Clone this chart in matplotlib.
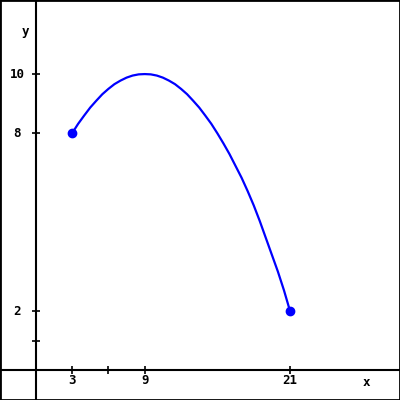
import matplotlib
matplotlib.use("Agg")
import matplotlib.pyplot as plt

# curve
xs = [3, 3.5, 4, 4.5, 5, 5.5, 6, 6.5, 7, 7.5, 8, 8.5, 9, 9.5, 10, 10.5, 11, 11.5,
      12, 12.5, 13, 13.5, 14, 14.5, 15, 15.5, 16, 16.5, 17, 17.5, 18, 18.5, 19,
      19.5, 20, 20.5, 21]
ys = [8, 8.32, 8.6, 8.87, 9.1, 9.32, 9.5, 9.66, 9.78, 9.88, 9.95, 9.99, 10, 9.99,
      9.95, 9.88, 9.78, 9.66, 9.5, 9.32, 9.1, 8.87, 8.6, 8.32, 8, 7.66, 7.3, 6.9,
      6.5, 6.05, 5.57, 5.04, 4.47, 3.9, 3.33, 2.7, 2]

# end points
px = [3, 21]
py = [8, 2]

xticks = [3, 6, 9, 21]
xlabels = ["3", "", "9", "21"]
yticks = [1, 2, 8, 10]
ylabels = ["", "2", "8", "10"]

fig = plt.figure(figsize=(4, 4), dpi=100)
ax = fig.add_axes([0, 0, 1, 1])
ax.set_xlim(-2.95, 30.08)
ax.set_ylim(-1.0, 12.5)
ax.set_xticks([])
ax.set_yticks([])
for s in ax.spines.values():
    s.set_linewidth(2)
    s.set_color("black")

# axes through the origin
ax.axhline(0, color="black", lw=1.5)
ax.axvline(0, color="black", lw=1.5)

# tick marks
ax.plot(xticks, [0] * len(xticks), ls="none", marker="|", ms=6, mew=1.2, color="black")
ax.plot([0] * len(yticks), yticks, ls="none", marker="_", ms=6, mew=1.2, color="black")

font = dict(family="DejaVu Sans Mono", fontweight="bold", fontsize=9)
for x, lab in zip(xticks, xlabels):
    ax.text(x, -0.33, lab, ha="center", va="center", **font)
for y, lab in zip(yticks, ylabels):
    ax.text(-1.54, y, lab, ha="center", va="center", **font)
ax.text(27.27, -0.4, "x", ha="center", va="center", **font)
ax.text(-0.88, 11.45, "y", ha="center", va="center", **font)

ax.plot(xs, ys, color="#0000ff", lw=1.6)
ax.plot(px, py, ls="none", marker="o", ms=6, color="#0000ff")

fig.savefig("out.png", dpi=100)
